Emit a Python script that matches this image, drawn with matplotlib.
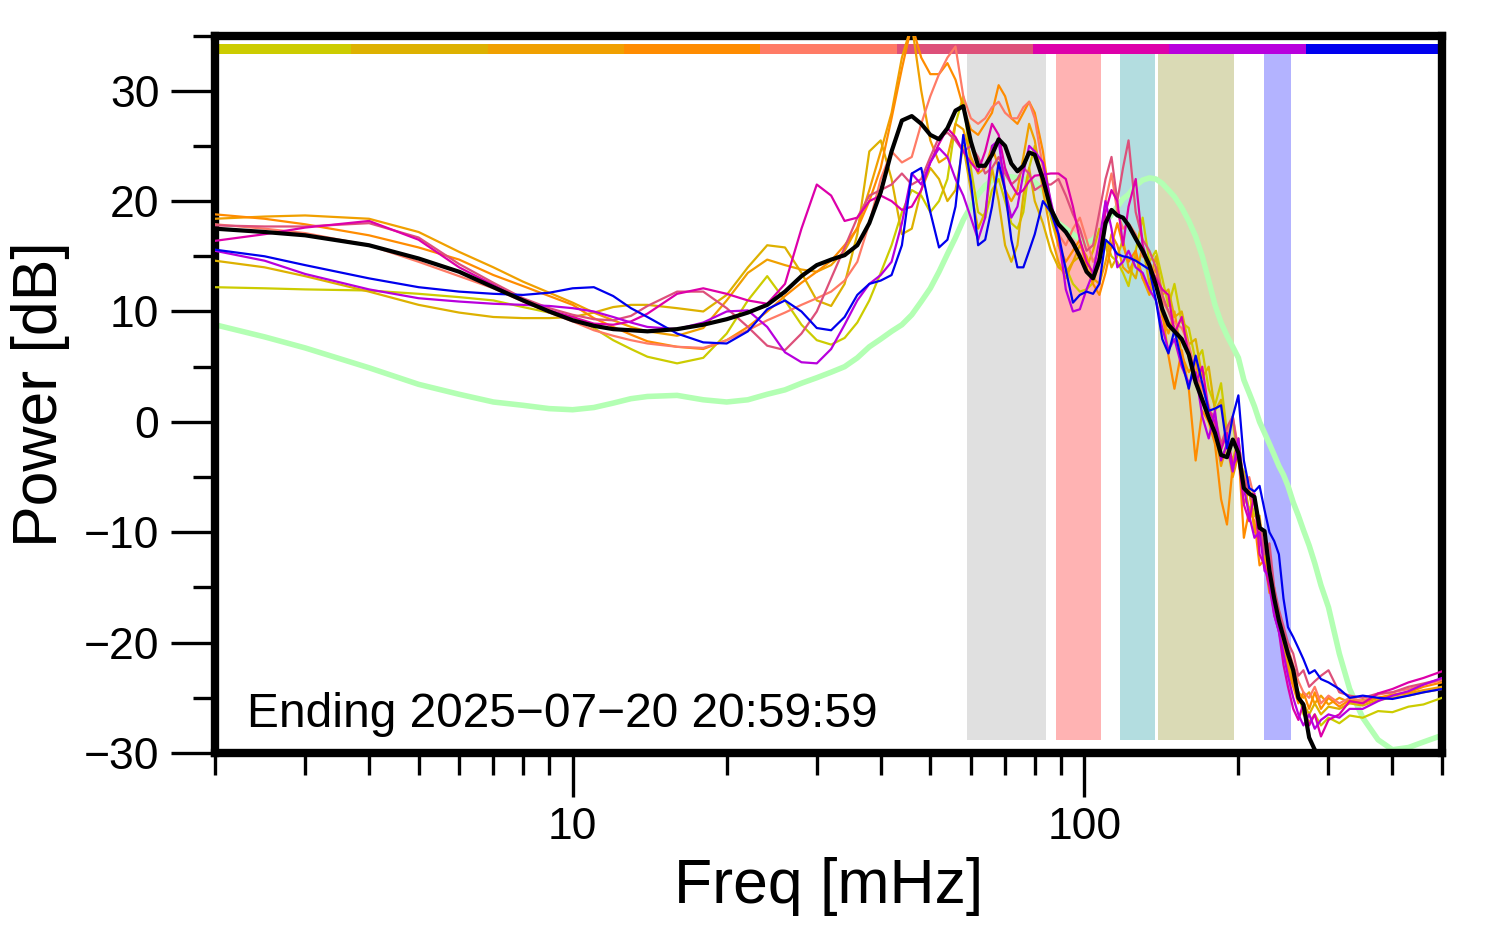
import matplotlib
matplotlib.use("Agg")
import matplotlib.pyplot as plt
from matplotlib.patches import Rectangle
from matplotlib.ticker import FixedLocator, NullFormatter, FixedFormatter

plt.rcParams['font.family'] = ['Liberation Sans', 'DejaVu Sans']

# frequency grid [mHz]
freq = [2, 2.5, 3, 4, 5, 6, 7, 8, 9, 10, 11, 12, 13, 14, 16, 18, 20, 22, 24, 26, 28, 30, 32, 34, 36, 38,
        40, 42, 44, 46, 48, 50, 52, 54, 56, 58, 60, 62, 64, 66, 68, 70, 72, 74, 76, 78, 80,
        83, 86, 89, 92, 95, 98, 101, 104, 107, 110, 113, 116, 119,
        122, 126, 130, 134, 138, 142, 146, 150, 155, 160, 165, 170, 175, 180, 185, 190, 195, 200,
        205, 210, 215, 220, 225, 230, 235, 240, 245, 250,
        256, 262, 268, 275, 282, 290, 300, 315, 330, 350, 375, 400, 430, 460, 500]

p_yellow = [12.2, 12.1, 12.0, 11.9, 11.6, 11.3, 11.0, 10.4, 9.9, 9.5, 8.5, 7.4, 6.6, 5.9, 5.3, 5.8, 8.0, 11.0, 13.2, 11.0, 8.8, 7.4, 7.0, 7.6, 9.0, 11.0,
            13.5, 16, 19, 21, 20.5, 19, 20, 22, 27, 29.5, 23, 19, 18.5, 21, 22, 20, 18, 17.5, 19, 23, 25,
            22, 18.5, 16, 14, 12.5, 11.8, 12.0, 12.6, 14.5, 16.5, 15, 14.5, 13.5,
            12.3, 15.5, 18.5, 14.5, 15.5, 13, 10.5, 12.5, 9, 8.5, 5.5, 6.5, 3.0, 1.5, 3.5, -1.0, 0.0, -3.5,
            -4.5, -6.5, -8.5, -9, -12, -14, -16.5, -18, -20, -21.5,
            -23, -24.5, -26.5, -27.2, -26.5, -27.5, -26.8, -27.3, -26.6, -26.8, -26.2, -26.3, -25.8, -25.6, -25.0]

p_gold = [14.6, 14.0, 13.2, 11.8, 10.6, 9.9, 9.5, 9.4, 9.4, 9.5, 9.9, 10.4, 10.6, 10.6, 10.3, 10.0, 11.5, 14.0, 16.0, 15.8, 13.5, 11.0, 10.5, 12.5, 17.0, 24.5,
          25.5, 22, 17, 17.5, 21, 23, 22, 20, 21, 25, 21, 17.5, 19, 23, 20, 16, 14.5, 16, 20.5, 23, 20,
          18, 15.5, 14, 13.5, 14.5, 15, 14, 15.5, 17.5, 16, 14, 15, 16.5,
          14, 13, 16, 12.5, 15, 11.5, 12, 9.5, 10, 7, 7.5, 4, 5, 1, 2, -2, -3.5, -1.5,
          -5.5, -8, -7, -11, -11.5, -14.5, -17, -19, -20.5, -22,
          -23.5, -25, -25.5, -26.5, -25.5, -26.5, -25.8, -26, -25.5, -25.7, -25.2, -25, -24.8, -24.5, -24.2]

p_orange1 = [18.4, 18.6, 18.7, 18.4, 17.2, 15.4, 14.0, 12.7, 11.7, 10.8, 9.9, 9.2, 8.6, 8.2, 7.8, 8.5, 11.0, 13.5, 14.7, 14.2, 13.8, 13.6, 14.2, 15.5, 17.6, 21.0,
             24.5, 28, 33, 36, 30, 25.5, 23.5, 24, 27, 26.5, 24, 22.5, 23, 25, 23, 21, 20, 21, 24, 27, 25.5,
             21, 17, 14.5, 13, 14.5, 16, 15, 13, 12.5, 14.5, 17, 16, 14,
             13.5, 15, 13, 11.5, 13, 9.5, 8, 10, 6, 4.5, 5.5, 2, 0, -1, -4, -2, -5, -3,
             -7.5, -6, -10, -8.5, -12.5, -14, -16, -18.5, -20.5, -22,
             -23.5, -24.5, -25, -24.5, -25.5, -24.8, -25.6, -25, -25.4, -25.2, -25, -24.8, -24.6, -24.3, -24.0]

p_orange2 = [18.8, 18.4, 17.9, 16.9, 15.8, 14.7, 13.3, 12.3, 11.4, 10.6, 9.4, 8.6, 7.9, 7.3, 6.8, 6.6, 7.4, 8.6, 10.0, 11.4, 12.6, 13.6, 14.6, 16.0, 17.5, 20.0,
             23, 27.5, 32, 36, 33, 31.5, 31.5, 32.5, 31, 28.5, 26.5, 26, 27, 28, 30.5, 29.5, 27.5, 27, 28, 29, 28,
             24.5, 19.5, 16, 14.5, 15.5, 16.5, 14, 12.5, 11.5, 13.5, 16, 18, 16,
             14.5, 15.5, 13, 12, 14, 10, 6, 3, 6.5, 3, -3.5, 1, 0, -2, -7, -9.3, -4, -2.5,
             -10.5, -8, -9, -13, -12.5, -15.5, -15, -18.5, -21, -22.5,
             -24, -25.5, -24.5, -26, -24.5, -26, -25, -25.8, -25.2, -25.5, -25.0, -24.7, -24.5, -24.0, -23.6]

p_salmon = [17.9, 17.5, 17.1, 16.0, 14.5, 13.2, 12.1, 10.9, 9.9, 9.1, 8.3, 7.8, 7.4, 7.1, 6.8, 6.7, 7.4, 8.3, 9.2, 9.9, 10.6, 11.2, 11.8, 12.8, 14.5, 18.0,
            22, 24.5, 23.5, 24, 27, 29.5, 31.5, 33, 34, 29.5, 27.5, 27, 27.5, 28.5, 29, 28, 27.5, 27.5, 28.5, 29, 27.5,
            23, 19, 17, 16, 17.5, 18.5, 16.5, 14.5, 15.5, 20, 22.5, 19, 17.5,
            18, 17, 15, 14.5, 13, 11, 10, 9, 8.5, 7, 4.5, 3, 1.5, -0.5, -2.5, -1.0, 0.5, -2.5,
            -6, -5, -7, -10, -11, -13, -15.5, -17.5, -19, -20.5,
            -22, -23.5, -24.5, -25, -24, -25.5, -24.8, -25.5, -25.0, -25.3, -24.7, -24.5, -24.2, -23.8, -23.4]

p_rose = [17.8, 17.7, 17.7, 18.0, 16.7, 14.3, 12.6, 11.2, 10.3, 9.7, 9.3, 9.2, 9.6, 10.5, 11.8, 11.8, 10.3, 8.6, 6.9, 6.5, 8.0, 10.0, 13.0, 15.8, 18.5, 20.5,
          21, 21.5, 22.5, 21.5, 22, 24, 25.8, 26.2, 25.5, 24.5, 25, 24, 22.5, 23, 24, 22.5, 21.5, 22, 23, 22.5, 21,
          21.5, 21.5, 22, 20.5, 18.8, 17.5, 15.5, 16, 19, 22, 24, 20, 23,
          25.5, 19, 16.5, 15.5, 14, 11.5, 10, 8.5, 7.5, 6.5, 4, 3.5, 1, 0.5, -2, -0.5, 0.5, -3,
          -5, -6.5, -7.5, -9, -12, -11, -15, -17, -18.5, -20,
          -21, -23, -22.5, -24, -23.5, -23, -22.5, -24.5, -24.8, -25, -24.6, -24.5, -24.0, -23.7, -23.3]

p_magenta = [16.4, 17.0, 17.6, 18.2, 16.5, 14.0, 12.4, 11.0, 10.1, 9.5, 8.9, 8.8, 9.1, 9.8, 11.6, 12.1, 11.6, 11.0, 10.7, 12.5, 17.5, 21.5, 20.5, 18.2, 18.5, 20.0,
             20.5, 20, 19.2, 19.5, 21, 23.5, 25.2, 26.6, 25.8, 24.5, 23.5, 22.7, 24.5, 27, 26, 23, 21.5, 20.6, 21, 21.8, 22.3,
             22.4, 22.5, 22.5, 22, 19.5, 16.5, 14.5, 13.5, 15, 19, 21, 20, 16,
             19.5, 22, 16, 14, 13, 12, 11.5, 8, 9.5, 6, 3.5, 5, 1, 0, -2.5, -1, -4, -3,
             -7.5, -9, -6.5, -12, -13, -15, -17.5, -19, -22, -24,
             -26, -27, -25.5, -27.5, -26.5, -28.5, -27, -26.5, -25.3, -25.5, -24.6, -24.2, -23.6, -23.2, -22.6]

p_purple = [15.5, 14.6, 13.4, 12.0, 11.2, 10.9, 10.7, 10.6, 10.5, 10.3, 10.0, 9.5, 9.0, 8.6, 8.4, 9.0, 10.0, 10.1, 8.6, 6.3, 5.4, 5.3, 6.6, 8.8, 11.0, 12.5,
            13.3, 14.5, 18, 22.5, 21.5, 23.5, 24.8, 24, 22, 20.5, 18.5, 16.5, 18.5, 25, 25.5, 21, 18.5, 19.5, 22.5, 25, 24.5,
            23.5, 20, 17, 12, 10.0, 10.2, 12, 13.5, 16.5, 20, 17.5, 14, 14.5,
            15.5, 14, 13.5, 12, 11, 8.5, 6.5, 7.5, 5, 3.5, 4.5, 0.5, -1.5, 1, -3.5, -2, -4.5, -1.5,
            -6, -8.5, -10.5, -10, -13.5, -14, -17.5, -19, -21, -23,
            -25, -26.5, -27.5, -26.5, -27.8, -27, -26.5, -26.8, -26, -26, -25.3, -24.8, -24.4, -23.8, -23.2]

p_blue = [15.6, 15.0, 14.2, 13.0, 12.2, 11.8, 11.6, 11.5, 11.7, 12.1, 12.2, 11.4, 10.3, 9.5, 8.0, 7.2, 7.1, 8.2, 10.2, 11.0, 10.0, 8.5, 8.3, 9.5, 11.5, 12.5,
          12.8, 13.3, 16.0, 22.5, 23.0, 19.0, 15.8, 16.5, 19.5, 26.0, 21.8, 16.0, 16.5, 19.5, 23.5, 21.0, 16.5, 14.0, 14.0, 15.5, 17.0,
          20.0, 19.0, 17.0, 13.8, 10.8, 11.5, 11.8, 11.6, 12.5, 16.5, 16.0, 15.2, 15.0,
          14.9, 14.6, 14.2, 13.8, 11, 7.5, 6.2, 8.3, 5.5, 3.0, 6.0, 3.5, 1.0, 1.2, 1.5, -2.4, 0.5, 2.4,
          -3.5, -6, -6.3, -5.8, -8, -10, -10.8, -12, -16, -18.6,
          -19.5, -20.5, -21.5, -22.8, -22.5, -23.3, -23.6, -24.2, -25, -24.8, -25, -25.1, -24.8, -24.5, -24.2]

p_mean = [17.5, 17.2, 16.9, 16.0, 14.8, 13.6, 12.2, 11.0, 10.0, 9.2, 8.7, 8.4, 8.3, 8.2, 8.4, 8.8, 9.3, 9.9, 10.6, 11.8, 13.2, 14.2, 14.7, 15.1, 16.0, 18.0,
          20.8, 24.5, 27.3, 27.7, 27.0, 26.0, 25.6, 26.6, 28.2, 28.6, 25.4, 23.2, 23.2, 24.2, 25.6, 25.0, 23.4, 22.7, 23.2, 24.4, 24.2,
          22.0, 19.3, 17.9, 17.2, 16.2, 15.0, 13.6, 13.0, 14.6, 18.0, 19.2, 18.7, 18.5,
          17.8, 16.6, 15.5, 14.2, 12.4, 10.2, 8.8, 8.2, 7.5, 6.1, 3.6, 2.0, 0.4, -1.0, -3.0, -3.2, -1.6, -2.8,
          -6.0, -6.5, -6.8, -9.6, -9.9, -13.5, -16.0, -18.0, -19.5, -21.0,
          -22.5, -25.0, -25.6, -28.6, -29.7, -30.3, -31.5, -33, -33, -33, -33, -33, -33, -33, -33]

p_ref = [8.8, 7.7, 6.7, 4.9, 3.4, 2.5, 1.8, 1.5, 1.2, 1.1, 1.3, 1.7, 2.1, 2.3, 2.4, 2.0, 1.8, 2.0, 2.5, 2.9, 3.5, 4.0, 4.5, 5.0, 5.8, 6.8,
         7.5, 8.2, 8.8, 9.7, 10.9, 12.1, 13.6, 15.2, 16.7, 18.3, 19.5, 20.6, 21.4, 21.9, 22.1, 22.2, 22.2, 22.1, 22.0, 21.9, 21.7,
         21.0, 19.0, 18.0, 17.5, 17.0, 16.5, 16.2, 16.5, 17.2, 18.0, 18.8, 19.5, 20.2,
         20.6, 21.4, 21.9, 22.1, 22.0, 21.6, 21.0, 20.4, 19.4, 18.2, 16.8, 15.0, 12.8, 10.6, 9.0, 7.8, 6.8, 5.8,
         3.8, 2.6, 1.4, 0.0, -1.0, -2.0, -3.0, -4.0, -4.8, -5.8,
         -7.3, -8.5, -9.8, -11.2, -12.8, -14.8, -16.8, -21.0, -24.2, -26.8, -28.8, -29.7, -29.5, -29.0, -28.4]

line_colors = ['#CCCC00', '#DDB100', '#F0A000', '#FF8C00', '#FF7B66', '#DD507A', '#DD00AA', '#B800DD', '#0000EE']
bands = [(59, 84, '#E0E0E0'), (88, 108, '#FFB3B3'), (117.5, 137.5, '#B3DDE0'),
         (139, 196, '#DADAB5'), (224, 254, '#B3B3FF')]

fig = plt.figure(figsize=(14.94, 9.52), dpi=100)
ax = fig.add_axes([0.1439, 0.209, 0.8213, 0.7537])
ax.set_xscale('log')
ax.set_xlim(2, 500)
ax.set_ylim(-30, 35)

for lo, hi, c in bands:
    ax.add_patch(Rectangle((lo, -28.8), hi - lo, 62.2, facecolor=c, edgecolor='none', zorder=1))

# colour strip along the top, one segment per trace
nseg = len(line_colors)
for i, c in enumerate(line_colors):
    x0 = 2 * 250 ** (i / nseg)
    x1 = 2 * 250 ** ((i + 1) / nseg)
    ax.add_patch(Rectangle((x0, 33.35), x1 - x0, 0.9, facecolor=c, edgecolor='none', zorder=1.5))

ax.plot(freq, p_ref, color='#B3FFB3', lw=4.0, zorder=2, solid_joinstyle='round')
traces = [p_yellow, p_gold, p_orange1, p_orange2, p_salmon, p_rose, p_magenta, p_purple, p_blue]
for vals, c in zip(traces, line_colors):
    ax.plot(freq, vals, color=c, lw=1.6, zorder=3, solid_joinstyle='round')
ax.plot(freq, p_mean, color='black', lw=3.0, zorder=4, solid_joinstyle='round')

for s in ax.spines.values():
    s.set_linewidth(6)

ax.xaxis.set_major_locator(FixedLocator([10, 100]))
ax.xaxis.set_major_formatter(FixedFormatter(['10', '100']))
ax.xaxis.set_minor_locator(FixedLocator([2, 3, 4, 5, 6, 7, 8, 9, 20, 30, 40, 50, 60, 70, 80, 90,
                                         200, 300, 400, 500]))
ax.xaxis.set_minor_formatter(NullFormatter())
ax.set_yticks([-30, -20, -10, 0, 10, 20, 30])
ax.set_yticks([-25, -15, -5, 5, 15, 25, 35], minor=True)

ax.tick_params(axis='both', which='major', direction='out', length=32, width=2.4,
               labelsize=32, pad=8)
ax.tick_params(axis='both', which='minor', direction='out', length=16, width=2.4)
ax.tick_params(axis='x', which='major', pad=7)

ax.set_xlabel('Freq [mHz]', fontsize=45, labelpad=6)
ax.set_ylabel('Power [dB]', fontsize=45, labelpad=10)

ax.text(0.026, 0.036, 'Ending 2025\u221207\u221220 20:59:59', transform=ax.transAxes,
        fontsize=34.5, va='baseline', ha='left')

fig.savefig('out.png', dpi=100)
